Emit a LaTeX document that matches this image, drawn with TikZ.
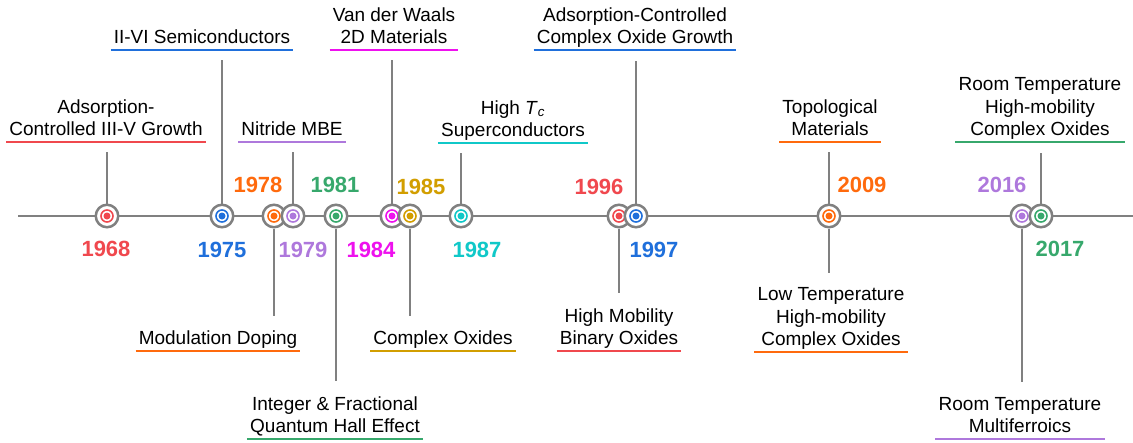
\documentclass[tikz,border=0pt]{standalone}
\usepackage{fontspec}
\setmainfont{Liberation Sans}
\usepackage{tikz}
\usetikzlibrary{positioning, calc}

\definecolor{tlred}{HTML}{F0484E}
\definecolor{tlblue}{HTML}{1F6FDB}
\definecolor{tlorange}{HTML}{FF6A0D}
\definecolor{tlpurple}{HTML}{AE78DC}
\definecolor{tlgreen}{HTML}{37A86C}
\definecolor{tlmagenta}{HTML}{EE11EE}
\definecolor{tlgold}{HTML}{D29E00}
\definecolor{tlcyan}{HTML}{10C8C8}
\definecolor{tlgray}{HTML}{808080}

\begin{document}
\begin{tikzpicture}[
    x=1pt, y=-1pt,
    axis/.style={draw=tlgray, line width=2pt},
    stem/.style={draw=tlgray, line width=2pt},
    marker/.style={circle, draw=tlgray, fill=white, line width=2.5pt, minimum size=22.5pt, inner sep=0pt,
        path picture={
            \draw[#1, line width=1.6pt] (path picture bounding box.center) circle (6pt);
            \fill[#1] (path picture bounding box.center) circle (3.5pt);
        }},
    year/.style={text=#1, font=\fontsize{22}{26}\selectfont\bfseries, inner sep=0pt},
    event/.style={align=center, font=\fontsize{19}{22.5}\selectfont, inner xsep=3pt, inner ysep=6pt,
        text depth=0pt, anchor=south},
    uline/.style={draw=#1, line width=2.2pt}
]

    % Frame
    \useasboundingbox (0,0) rectangle (1133,442);

    % Time axis
    \coordinate (tl-start) at (18,216);
    \coordinate (tl-end) at (1133,216);
    \draw[axis] (tl-start) -- (tl-end);

    % Milestones on the axis
    \node[marker=tlred] (m1968) at (107,216) {};
    \node[marker=tlblue] (m1975) at (222,216) {};
    \node[marker=tlorange] (m1978) at (274,216) {};
    \node[marker=tlpurple] (m1979) at (293,216) {};
    \node[marker=tlgreen] (m1981) at (336,216) {};
    \node[marker=tlmagenta] (m1984) at (392,216) {};
    \node[marker=tlgold] (m1985) at (410,216) {};
    \node[marker=tlcyan] (m1987) at (461,216) {};
    \node[marker=tlred] (m1996) at (619,216) {};
    \node[marker=tlblue] (m1997) at (636,216) {};
    \node[marker=tlorange] (m2009) at (829,216) {};
    \node[marker=tlpurple] (m2016) at (1022,216) {};
    \node[marker=tlgreen] (m2017) at (1041,216) {};

    % Years
    \node[year=tlred] (y1968) at (106,249) {1968};
    \node[year=tlblue] (y1975) at (222,250) {1975};
    \node[year=tlorange] (y1978) at (258,185) {1978};
    \node[year=tlpurple] (y1979) at (303,250) {1979};
    \node[year=tlgreen] (y1981) at (335,185) {1981};
    \node[year=tlmagenta] (y1984) at (371,250) {1984};
    \node[year=tlgold] (y1985) at (421,187) {1985};
    \node[year=tlcyan] (y1987) at (477,250) {1987};
    \node[year=tlred] (y1996) at (599,187) {1996};
    \node[year=tlblue] (y1997) at (654,250) {1997};
    \node[year=tlorange] (y2009) at (862,185) {2009};
    \node[year=tlpurple] (y2016) at (1002,185) {2016};
    \node[year=tlgreen] (y2017) at (1060,249) {2017};

    % Events above the axis
    \node[event] (l1968) at (106,142) {Adsorption-\\Controlled III-V Growth};
    \node[event] (l1975) at (202,50) {II-VI Semiconductors};
    \node[event] (l1979) at (292,142) {Nitride MBE};
    \node[event] (l1984) at (394,50) {Van der Waals\\2D Materials};
    \node[event] (l1987) at (513,143) {High \textit{T}\textsubscript{\textit{c}}\\Superconductors};
    \node[event] (l1997) at (635,50) {Adsorption-Controlled\\Complex Oxide Growth};
    \node[event] (l2009a) at (830,142) {Topological\\Materials};
    \node[event] (l2017) at (1040,142) {Room Temperature\\High-mobility\\Complex Oxides};

    % Events below the axis
    \node[event] (l1978) at (218,351) {Modulation Doping};
    \node[event] (l1981) at (335,439) {Integer \& Fractional\\Quantum Hall Effect};
    \node[event] (l1985) at (443,351) {Complex Oxides};
    \node[event] (l1996) at (619,351) {High Mobility\\Binary Oxides};
    \node[event] (l2009b) at (831,352) {Low Temperature\\High-mobility\\Complex Oxides};
    \node[event] (l2016) at (1020,439) {Room Temperature\\Multiferroics};

    % Underlines
    \draw[uline=tlred] (l1968.south west) -- (l1968.south east);
    \draw[uline=tlblue] (l1975.south west) -- (l1975.south east);
    \draw[uline=tlpurple] (l1979.south west) -- (l1979.south east);
    \draw[uline=tlmagenta] (l1984.south west) -- (l1984.south east);
    \draw[uline=tlcyan] (l1987.south west) -- (l1987.south east);
    \draw[uline=tlblue] (l1997.south west) -- (l1997.south east);
    \draw[uline=tlorange] (l2009a.south west) -- (l2009a.south east);
    \draw[uline=tlgreen] (l2017.south west) -- (l2017.south east);
    \draw[uline=tlorange] (l1978.south west) -- (l1978.south east);
    \draw[uline=tlgreen] (l1981.south west) -- (l1981.south east);
    \draw[uline=tlgold] (l1985.south west) -- (l1985.south east);
    \draw[uline=tlred] (l1996.south west) -- (l1996.south east);
    \draw[uline=tlorange] (l2009b.south west) -- (l2009b.south east);
    \draw[uline=tlpurple] (l2016.south west) -- (l2016.south east);

    % Stems up
    \draw[stem] (m1968.north) -- ($(m1968 |- l1968.south)+(0,10)$);
    \draw[stem] (m1975.north) -- ($(m1975 |- l1975.south)+(0,10)$);
    \draw[stem] (m1979.north) -- ($(m1979 |- l1979.south)+(0,10)$);
    \draw[stem] (m1984.north) -- ($(m1984 |- l1984.south)+(0,10)$);
    \draw[stem] (m1987.north) -- ($(m1987 |- l1987.south)+(0,10)$);
    \draw[stem] (m1997.north) -- ($(m1997 |- l1997.south)+(0,11)$);
    \draw[stem] (m2009.north) -- ($(m2009 |- l2009a.south)+(0,10)$);
    \draw[stem] (m2017.north) -- ($(m2017 |- l2017.south)+(0,11)$);

    % Stems down
    \draw[stem] (m1978.south) -- ($(m1978 |- l1978.north)-(0,9)$);
    \draw[stem] (m1981.south) -- ($(m1981 |- l1981.north)-(0,9)$);
    \draw[stem] (m1985.south) -- ($(m1985 |- l1985.north)-(0,9)$);
    \draw[stem] (m1996.south) -- ($(m1996 |- l1996.north)-(0,9)$);
    \draw[stem] (m2009.south) -- ($(m2009 |- l2009b.north)-(0,9)$);
    \draw[stem] (m2016.south) -- ($(m2016 |- l2016.north)-(0,9)$);

\end{tikzpicture}
\end{document}
